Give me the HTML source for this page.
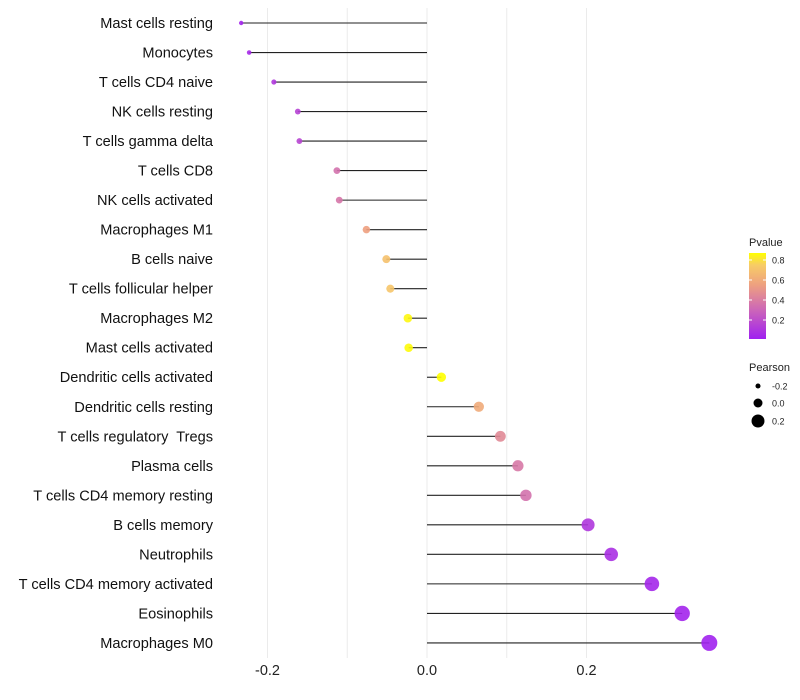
<!DOCTYPE html>
<html><head><meta charset="utf-8"><style>
body{margin:0;background:#fff;font-family:"Liberation Sans",sans-serif}
svg{display:block}
text{white-space:pre}
</style></head><body>
<svg id="chart" width="800" height="700"></svg>
<script>
const categories=["Mast cells resting","Monocytes","T cells CD4 naive","NK cells resting","T cells gamma delta","T cells CD8","NK cells activated","Macrophages M1","B cells naive","T cells follicular helper","Macrophages M2","Mast cells activated","Dendritic cells activated","Dendritic cells resting","T cells regulatory  Tregs","Plasma cells","T cells CD4 memory resting","B cells memory","Neutrophils","T cells CD4 memory activated","Eosinophils","Macrophages M0"];
const pearson=[-0.233,-0.223,-0.192,-0.162,-0.160,-0.113,-0.110,-0.076,-0.051,-0.046,-0.024,-0.023,0.018,0.065,0.092,0.114,0.124,0.202,0.231,0.282,0.320,0.354];
const pvalue=[0.02,0.04,0.1,0.15,0.16,0.35,0.37,0.55,0.7,0.72,0.85,0.86,0.87,0.6,0.45,0.38,0.35,0.1,0.07,0.03,0.02,0.01];
const xTicks=[-0.2,0,0.2];
const xTickLabels=["-0.2","0.0","0.2"];
const NS="http://www.w3.org/2000/svg";
const svg=document.getElementById('chart');
const x=v=>427+v*797.5;
const y=i=>23+i*29.52;
function mk(t,a,p){const e=document.createElementNS(NS,t);for(const k in a)e.setAttribute(k,a[k]);(p||svg).appendChild(e);return e;}
const stops=[[0,[160,32,240]],[0.3,[204,102,184]],[0.55,[238,160,128]],[0.75,[247,204,102]],[0.87,[255,255,0]]];
function col(p){for(let i=1;i<stops.length;i++){if(p<=stops[i][0]){const a=stops[i-1],b=stops[i],t=(p-a[0])/(b[0]-a[0]);return 'rgb('+a[1].map((c,j)=>Math.round(c+(b[1][j]-c)*t)).join(',')+')';}}return 'rgb(255,255,0)';}
const rad=v=>2.2+(v+0.233)/(0.587)*5.8;
[-0.2,-0.1,0,0.1,0.2].forEach(g=>{const l=mk('line',{x1:x(g),x2:x(g),y1:8,y2:658,stroke:'#ebebeb','stroke-width':1});
});
xTicks.forEach((t,i)=>{const e=mk('text',{x:x(t),y:675,'text-anchor':'middle','font-size':14.5,fill:'#222'});e.textContent=xTickLabels[i];
});
categories.forEach((c,i)=>{
const lab=mk('text',{x:213,y:y(i)+5,'text-anchor':'end','font-size':14.6,fill:'#111'});lab.textContent=c;

const ln=mk('line',{x1:x(0),x2:x(pearson[i]),y1:y(i),y2:y(i),stroke:'#222','stroke-width':1.1});

const pt=mk('circle',{cx:x(pearson[i]),cy:y(i),r:rad(pearson[i]),fill:col(pvalue[i]),'fill-opacity':0.9});

});
const defs=mk('defs',{});const lg=mk('linearGradient',{id:'pg',x1:0,y1:1,x2:0,y2:0},defs);
stops.forEach(s=>mk('stop',{offset:(s[0]-0.01)/0.86,'stop-color':col(s[0])},lg));
const lt=mk('text',{x:749,y:246,'font-size':11,fill:'#222'});lt.textContent='Pvalue';

const bar=mk('rect',{x:749,y:253,width:17,height:86,fill:'url(#pg)'});

[0.8,0.6,0.4,0.2].forEach(v=>{const yy=339-(v-0.01)/0.86*86;
mk('line',{x1:749,x2:752,y1:yy,y2:yy,stroke:'#fff'});mk('line',{x1:763,x2:766,y1:yy,y2:yy,stroke:'#fff'});
const t=mk('text',{x:772,y:yy+3.5,'font-size':9,fill:'#222'});t.textContent=v.toFixed(1);
});
const st=mk('text',{x:749,y:371,'font-size':11,fill:'#222'});st.textContent='Pearson';

[[-0.2,386],[0,403],[0.2,421]].forEach(([v,yy])=>{
const c=mk('circle',{cx:758,cy:yy,r:rad(v),fill:'#000'});

const t=mk('text',{x:772,y:yy+3.5,'font-size':9,fill:'#222'});t.textContent=v.toFixed(1);
});
</script>
</body></html>
